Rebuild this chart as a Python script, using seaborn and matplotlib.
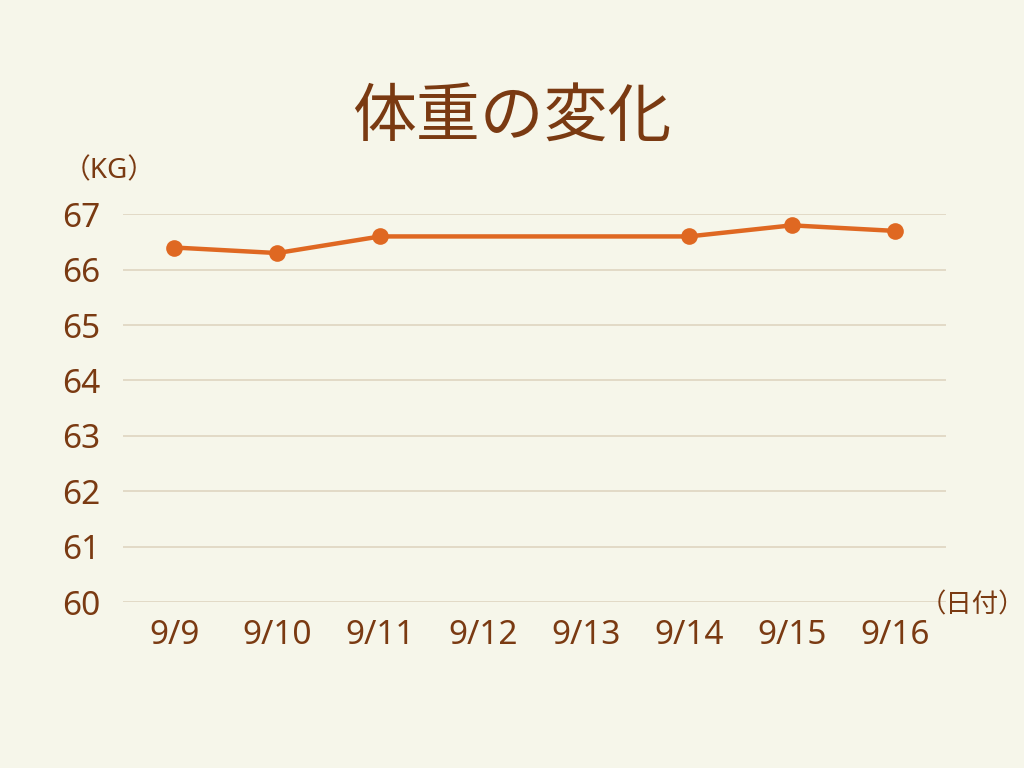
import numpy as np
import pandas as pd
import seaborn as sns
import matplotlib
import matplotlib.pyplot as plt

matplotlib.use("Agg")

# dados
datas = ["9/9", "9/10", "9/11", "9/12", "9/13", "9/14", "9/15", "9/16"]
pesos = [66.4, 66.3, 66.6, np.nan, np.nan, 66.6, 66.8, 66.7]
y_ticks = [60, 61, 62, 63, 64, 65, 66, 67]

fundo = "#F6F6EA"
marrom = "#7A3A12"
laranja = "#DF6822"
grade = "#DFD5C1"

sns.set_theme(style="white")
plt.rcParams["font.family"] = ["Noto Sans", "Noto Sans CJK JP", "DejaVu Sans"]

df = pd.DataFrame({"pos": range(len(datas)), "data": datas, "kg": pesos})
df = df.dropna()

fig = plt.figure(figsize=(10.24, 7.68), dpi=100, facecolor=fundo)
ax = fig.add_axes([0.120, 0.216, 0.804, 0.505])
ax.set_facecolor(fundo)

sns.lineplot(x="pos", y="kg", data=df, ax=ax, color=laranja, linewidth=3.2,
             marker="o", markersize=12, markeredgewidth=0, markeredgecolor=laranja)

ax.set_xlim(-0.5, len(datas) - 0.5)
ax.set_ylim(60, 67)
ax.set_xticks(range(len(datas)))
ax.set_xticklabels(datas)
ax.set_yticks(y_ticks)
ax.yaxis.grid(True, color=grade, linewidth=1.2)
ax.xaxis.grid(False)
ax.set_axisbelow(True)
for s in ax.spines.values():
    s.set_visible(False)
ax.tick_params(axis="y", length=0, pad=16, labelsize=24, labelcolor=marrom)
ax.tick_params(axis="x", length=0, pad=12, labelsize=24, labelcolor=marrom)
ax.set_xlabel("")
ax.set_ylabel("")

fig.text(0.5, 0.846, "体重の変化", ha="center", va="center", fontsize=46, color=marrom)
fig.text(0.107, 0.777, "（KG）", ha="center", va="center", fontsize=20, color=marrom)
fig.text(0.950, 0.212, "（日付）", ha="center", va="center", fontsize=19, color=marrom)

fig.savefig("out.png", dpi=100, facecolor=fundo)
